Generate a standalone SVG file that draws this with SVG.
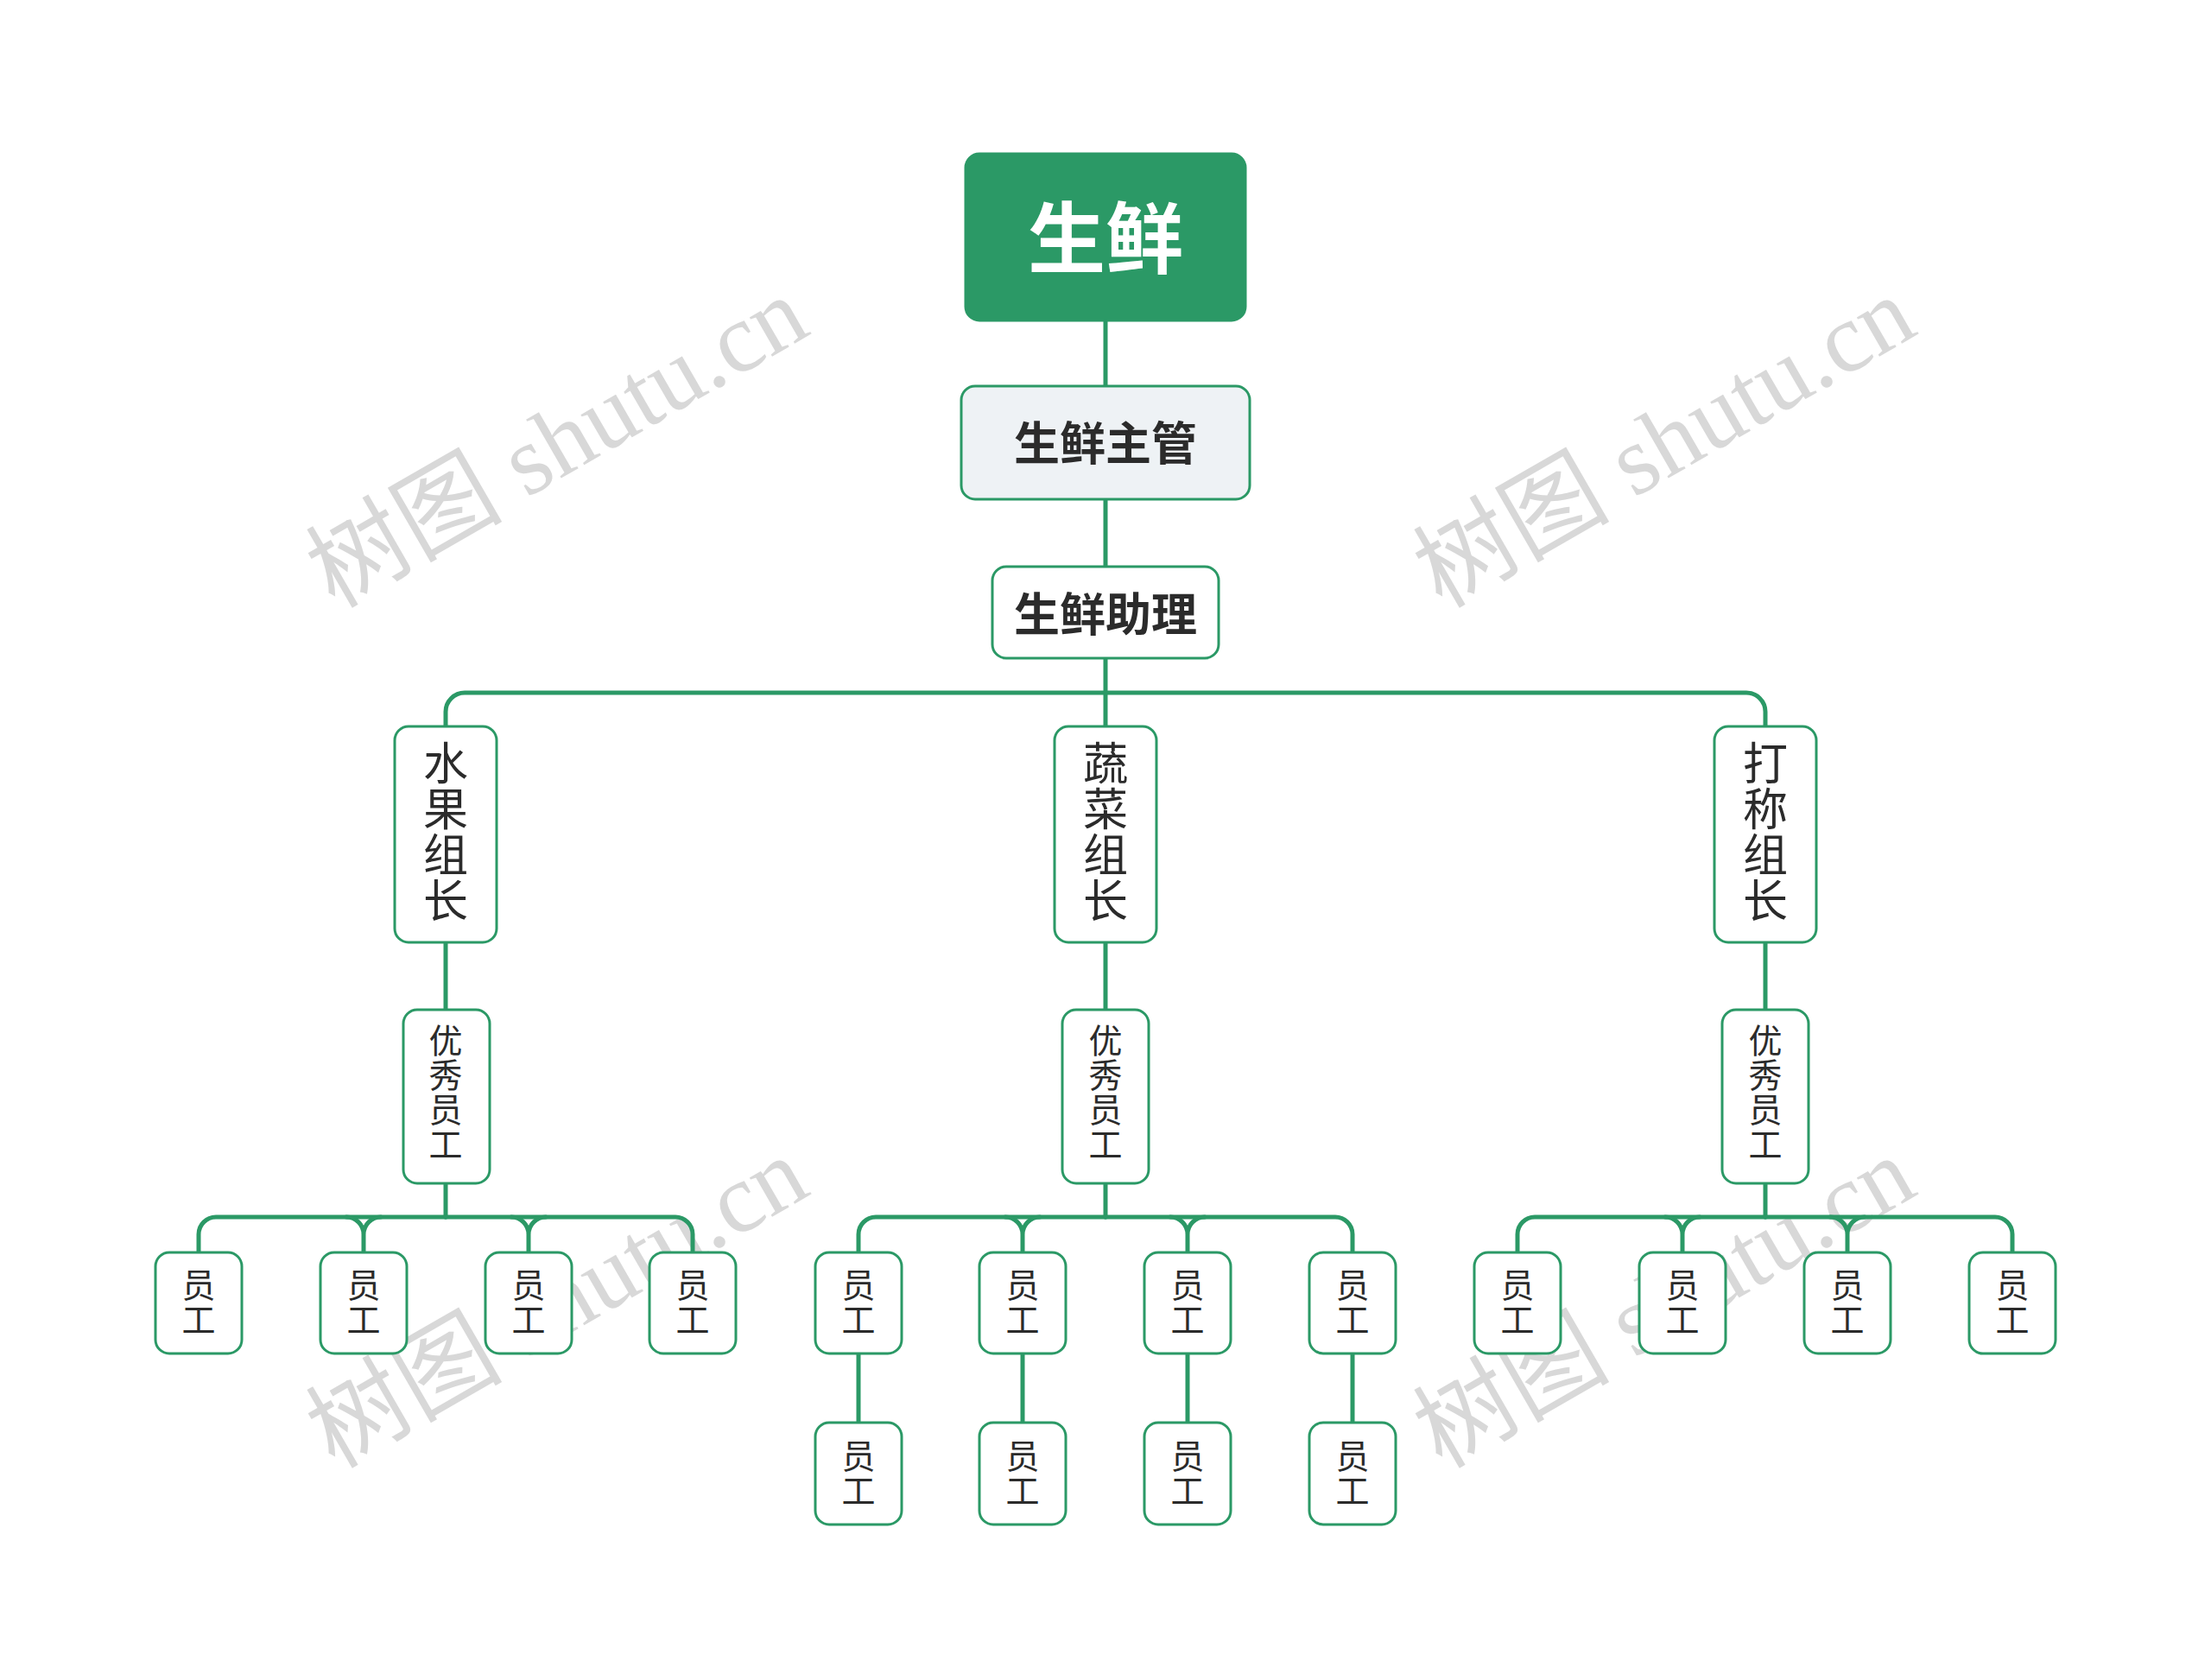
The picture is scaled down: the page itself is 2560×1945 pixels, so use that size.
<svg xmlns="http://www.w3.org/2000/svg" width="2560" height="1945" viewBox="0 0 2560 1945">
<style>
.bg{fill:#ffffff}
.wm{font-family:"Liberation Serif","Noto Sans CJK SC",serif;font-size:114px;fill:#d2d2d2;opacity:0.85}
.edge{fill:none;stroke:#2b9966;stroke-width:5;stroke-linecap:round}
.box{fill:#ffffff;stroke:#2b9966;stroke-width:3}
.root{fill:#2b9966;stroke:#2b9966;stroke-width:3}
.sub{fill:#eef2f5;stroke:#2b9966;stroke-width:3}
.t{font-family:"Noto Sans CJK SC","Noto Sans",sans-serif;fill:#2b2b2b;text-anchor:middle;dominant-baseline:central}
.tb{font-weight:bold}
.big{font-size:52px}
.mid{font-size:39px}
</style>
<rect class="bg" x="0" y="0" width="2560" height="1945"/>
<g id="watermarks">
<text class="wm" transform="translate(645,512) rotate(-30)" text-anchor="middle" dominant-baseline="central">树图 shutu.cn</text>
<text class="wm" transform="translate(1927,512) rotate(-30)" text-anchor="middle" dominant-baseline="central">树图 shutu.cn</text>
<text class="wm" transform="translate(645,1508) rotate(-30)" text-anchor="middle" dominant-baseline="central">树图 shutu.cn</text>
<text class="wm" transform="translate(1927,1508) rotate(-30)" text-anchor="middle" dominant-baseline="central">树图 shutu.cn</text>
</g>
<g id="connectors">
<path class="edge" d="M1280 371 V447"/>
<path class="edge" d="M1280 578 V656"/>
<path class="edge" d="M1280 762 V841"/>
<path class="edge" d="M1280 802 H538 A22 22 0 0 0 516 824 V841"/>
<path class="edge" d="M1280 802 H2022 A22 22 0 0 1 2044 824 V841"/>
<path class="edge" d="M516 1091 V1169"/>
<path class="edge" d="M1280 1091 V1169"/>
<path class="edge" d="M2044 1091 V1169"/>
<path class="edge" d="M516 1370 V1409"/>
<path class="edge" d="M516 1409 H250 A20 20 0 0 0 230 1429 V1450"/>
<path class="edge" d="M401 1409 A20 20 0 0 1 421 1429 V1450 M441 1409 A20 20 0 0 0 421 1429"/>
<path class="edge" d="M592 1409 A20 20 0 0 1 612 1429 V1450 M632 1409 A20 20 0 0 0 612 1429"/>
<path class="edge" d="M516 1409 H782 A20 20 0 0 1 802 1429 V1450"/>
<path class="edge" d="M1280 1370 V1409"/>
<path class="edge" d="M1280 1409 H1014 A20 20 0 0 0 994 1429 V1450"/>
<path class="edge" d="M1164 1409 A20 20 0 0 1 1184 1429 V1450 M1204 1409 A20 20 0 0 0 1184 1429"/>
<path class="edge" d="M1355 1409 A20 20 0 0 1 1375 1429 V1450 M1395 1409 A20 20 0 0 0 1375 1429"/>
<path class="edge" d="M1280 1409 H1546 A20 20 0 0 1 1566 1429 V1450"/>
<path class="edge" d="M994 1567 V1647"/>
<path class="edge" d="M1184 1567 V1647"/>
<path class="edge" d="M1375 1567 V1647"/>
<path class="edge" d="M1566 1567 V1647"/>
<path class="edge" d="M2044 1370 V1409"/>
<path class="edge" d="M2044 1409 H1777 A20 20 0 0 0 1757 1429 V1450"/>
<path class="edge" d="M1928 1409 A20 20 0 0 1 1948 1429 V1450 M1968 1409 A20 20 0 0 0 1948 1429"/>
<path class="edge" d="M2119 1409 A20 20 0 0 1 2139 1429 V1450 M2159 1409 A20 20 0 0 0 2139 1429"/>
<path class="edge" d="M2044 1409 H2310 A20 20 0 0 1 2330 1429 V1450"/>
</g>
<g id="root">
<rect class="root" x="1118" y="178" width="324" height="193" rx="16"/>
<text class="t tb" x="1280" y="270" font-size="90" style="fill:#ffffff">生鲜</text>
</g>
<g id="n-zhuguan">
<rect class="sub" x="1113" y="447" width="334" height="131" rx="16"/>
<text class="t tb" x="1280" y="510" font-size="53">生鲜主管</text>
</g>
<g id="n-zhuli">
<rect class="box" x="1149" y="656" width="262" height="106" rx="16"/>
<text class="t tb" x="1280" y="708" font-size="53">生鲜助理</text>
</g>
<g id="n-shuiguo">
<rect class="box" x="457" y="841" width="118" height="250" rx="16"/>
<text class="t big"><tspan x="516" y="880">水</tspan><tspan x="516" y="933">果</tspan><tspan x="516" y="986">组</tspan><tspan x="516" y="1039">长</tspan></text>
</g>
<g id="n-shucai">
<rect class="box" x="1221" y="841" width="118" height="250" rx="16"/>
<text class="t big"><tspan x="1280" y="880">蔬</tspan><tspan x="1280" y="933">菜</tspan><tspan x="1280" y="986">组</tspan><tspan x="1280" y="1039">长</tspan></text>
</g>
<g id="n-dacheng">
<rect class="box" x="1985" y="841" width="118" height="250" rx="16"/>
<text class="t big"><tspan x="2044" y="880">打</tspan><tspan x="2044" y="933">称</tspan><tspan x="2044" y="986">组</tspan><tspan x="2044" y="1039">长</tspan></text>
</g>
<g id="n-youxiu-1">
<rect class="box" x="467" y="1169" width="100" height="201" rx="16"/>
<text class="t mid"><tspan x="516" y="1202">优</tspan><tspan x="516" y="1242">秀</tspan><tspan x="516" y="1282">员</tspan><tspan x="516" y="1322">工</tspan></text>
</g>
<g id="n-youxiu-2">
<rect class="box" x="1230" y="1169" width="100" height="201" rx="16"/>
<text class="t mid"><tspan x="1280" y="1202">优</tspan><tspan x="1280" y="1242">秀</tspan><tspan x="1280" y="1282">员</tspan><tspan x="1280" y="1322">工</tspan></text>
</g>
<g id="n-youxiu-3">
<rect class="box" x="1994" y="1169" width="100" height="201" rx="16"/>
<text class="t mid"><tspan x="2044" y="1202">优</tspan><tspan x="2044" y="1242">秀</tspan><tspan x="2044" y="1282">员</tspan><tspan x="2044" y="1322">工</tspan></text>
</g>
<g id="leaf-1"><rect class="box" x="180" y="1450" width="100" height="117" rx="16"/><text class="t mid"><tspan x="230" y="1485">员</tspan><tspan x="230" y="1525">工</tspan></text></g>
<g id="leaf-2"><rect class="box" x="371" y="1450" width="100" height="117" rx="16"/><text class="t mid"><tspan x="421" y="1485">员</tspan><tspan x="421" y="1525">工</tspan></text></g>
<g id="leaf-3"><rect class="box" x="562" y="1450" width="100" height="117" rx="16"/><text class="t mid"><tspan x="612" y="1485">员</tspan><tspan x="612" y="1525">工</tspan></text></g>
<g id="leaf-4"><rect class="box" x="752" y="1450" width="100" height="117" rx="16"/><text class="t mid"><tspan x="802" y="1485">员</tspan><tspan x="802" y="1525">工</tspan></text></g>
<g id="leaf-5"><rect class="box" x="944" y="1450" width="100" height="117" rx="16"/><text class="t mid"><tspan x="994" y="1485">员</tspan><tspan x="994" y="1525">工</tspan></text></g>
<g id="leaf-6"><rect class="box" x="1134" y="1450" width="100" height="117" rx="16"/><text class="t mid"><tspan x="1184" y="1485">员</tspan><tspan x="1184" y="1525">工</tspan></text></g>
<g id="leaf-7"><rect class="box" x="1325" y="1450" width="100" height="117" rx="16"/><text class="t mid"><tspan x="1375" y="1485">员</tspan><tspan x="1375" y="1525">工</tspan></text></g>
<g id="leaf-8"><rect class="box" x="1516" y="1450" width="100" height="117" rx="16"/><text class="t mid"><tspan x="1566" y="1485">员</tspan><tspan x="1566" y="1525">工</tspan></text></g>
<g id="leaf-9"><rect class="box" x="944" y="1647" width="100" height="118" rx="16"/><text class="t mid"><tspan x="994" y="1683">员</tspan><tspan x="994" y="1723">工</tspan></text></g>
<g id="leaf-10"><rect class="box" x="1134" y="1647" width="100" height="118" rx="16"/><text class="t mid"><tspan x="1184" y="1683">员</tspan><tspan x="1184" y="1723">工</tspan></text></g>
<g id="leaf-11"><rect class="box" x="1325" y="1647" width="100" height="118" rx="16"/><text class="t mid"><tspan x="1375" y="1683">员</tspan><tspan x="1375" y="1723">工</tspan></text></g>
<g id="leaf-12"><rect class="box" x="1516" y="1647" width="100" height="118" rx="16"/><text class="t mid"><tspan x="1566" y="1683">员</tspan><tspan x="1566" y="1723">工</tspan></text></g>
<g id="leaf-13"><rect class="box" x="1707" y="1450" width="100" height="117" rx="16"/><text class="t mid"><tspan x="1757" y="1485">员</tspan><tspan x="1757" y="1525">工</tspan></text></g>
<g id="leaf-14"><rect class="box" x="1898" y="1450" width="100" height="117" rx="16"/><text class="t mid"><tspan x="1948" y="1485">员</tspan><tspan x="1948" y="1525">工</tspan></text></g>
<g id="leaf-15"><rect class="box" x="2089" y="1450" width="100" height="117" rx="16"/><text class="t mid"><tspan x="2139" y="1485">员</tspan><tspan x="2139" y="1525">工</tspan></text></g>
<g id="leaf-16"><rect class="box" x="2280" y="1450" width="100" height="117" rx="16"/><text class="t mid"><tspan x="2330" y="1485">员</tspan><tspan x="2330" y="1525">工</tspan></text></g>
</svg>
